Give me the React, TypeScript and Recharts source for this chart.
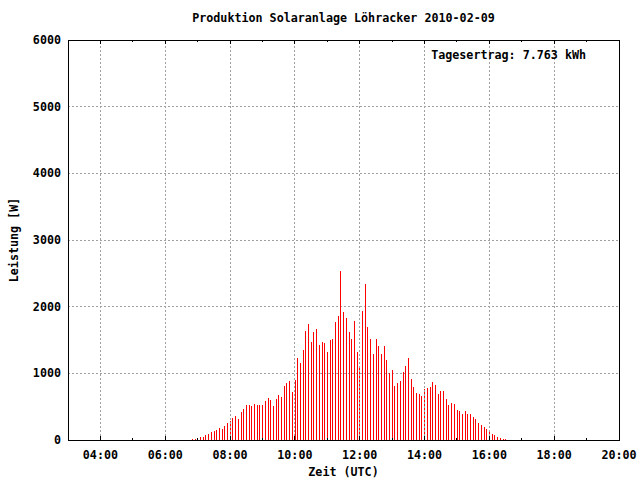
import React from 'react';
import { ComposedChart, Bar, XAxis, YAxis, CartesianGrid, ReferenceArea, ReferenceLine } from 'recharts';

const FONT = "'DejaVu Sans Mono', 'Liberation Mono', monospace";

const times = [
  '06:50', '06:55', '07:00', '07:05', '07:10', '07:15', '07:20', '07:25', '07:30', '07:35', '07:40', '07:45',
  '07:50', '07:55', '08:00', '08:05', '08:10', '08:15', '08:20', '08:25', '08:30', '08:35', '08:40', '08:45',
  '08:50', '08:55', '09:00', '09:05', '09:10', '09:15', '09:20', '09:25', '09:30', '09:35', '09:40', '09:45',
  '09:50', '09:55', '10:00', '10:05', '10:10', '10:15', '10:20', '10:25', '10:30', '10:35', '10:40', '10:45',
  '10:50', '10:55', '11:00', '11:05', '11:10', '11:15', '11:20', '11:25', '11:30', '11:35', '11:40', '11:45',
  '11:50', '11:55', '12:00', '12:05', '12:10', '12:15', '12:20', '12:25', '12:30', '12:35', '12:40', '12:45',
  '12:50', '12:55', '13:00', '13:05', '13:10', '13:15', '13:20', '13:25', '13:30', '13:35', '13:40', '13:45',
  '13:50', '13:55', '14:00', '14:05', '14:10', '14:15', '14:20', '14:25', '14:30', '14:35', '14:40', '14:45',
  '14:50', '14:55', '15:00', '15:05', '15:10', '15:15', '15:20', '15:25', '15:30', '15:35', '15:40', '15:45',
  '15:50', '15:55', '16:00', '16:05', '16:10', '16:15', '16:20', '16:25', '16:30',
];

const power = [
  20, 20, 30, 40, 50, 70, 90, 115, 130, 155, 175, 170,
  215, 250, 290, 335, 365, 310, 425, 470, 530, 530, 515, 540,
  525, 525, 525, 585, 630, 600, 510, 615, 675, 645, 810, 855,
  885, 720, 900, 1230, 1155, 1350, 1635, 1740, 1470, 1620, 1665, 1425,
  1470, 1455, 1320, 1500, 1515, 1770, 1860, 2535, 1920, 1830, 1620, 1515,
  1785, 1320, 1080, 1935, 2340, 1695, 1515, 1290, 1515, 1410, 1290, 1410,
  1200, 1005, 1050, 810, 855, 885, 1020, 1110, 1230, 915, 795, 705,
  690, 660, 765, 780, 795, 870, 825, 690, 735, 735, 615, 525,
  555, 540, 450, 435, 390, 435, 390, 390, 345, 315, 255, 225,
  195, 165, 120, 90, 75, 45, 30, 15, 15,
];

const majorHours = [4, 6, 8, 10, 12, 14, 16, 18, 20];
const minorHours = [5, 7, 9, 11, 13, 15, 17, 19];
const yTicks = [0, 1000, 2000, 3000, 4000, 5000, 6000];

const title = 'Produktion Solaranlage Löhracker 2010-02-09';
const dailyYield = 'Tagesertrag: 7.763 kWh';
const xLabel = 'Zeit (UTC)';
const yLabel = 'Leistung [W]';

const toHours = (s: string) => {
  const [h, m] = s.split(':').map(Number);
  return h + m / 60;
};
const data = times.map((t, i) => ({ t: toHours(t), w: power[i] }));
const allHourTicks = [...majorHours, ...minorHours].sort((a, b) => a - b);
const fmt = (h: number) => `${String(h).padStart(2, '0')}:00`;

const textStyle = { fontFamily: FONT, fontWeight: 'bold' as const, fontSize: 11.7, fill: '#000' };

const BottomTick = (props: any) => {
  const { x, y, payload } = props;
  const v = payload.value;
  const major = majorHours.includes(v);
  const len = major ? 4 : 2;
  return (
    <g>
      <line x1={x} x2={x} y1={y} y2={y - len} stroke="#000" shapeRendering="crispEdges" />
      {major && (
        <text x={x} y={y + 19} textAnchor="middle" {...textStyle}>
          {fmt(v)}
        </text>
      )}
    </g>
  );
};

const TopTick = (props: any) => {
  const { x, y, payload } = props;
  const v = payload.value;
  const major = majorHours.includes(v);
  const len = major ? 4 : 2;
  return <line x1={x} x2={x} y1={y} y2={y + len} stroke="#000" shapeRendering="crispEdges" />;
};

const Impulse = (props: any) => {
  const { x, y, width, height } = props;
  if (!height || height <= 0) return null;
  const cx = Math.round(x + width / 2 - 0.5);
  return <rect x={cx} y={y} width={1} height={height} fill="#ff0000" shapeRendering="crispEdges" />;
};

export default function App() {
  return (
    <div style={{ position: 'absolute', left: 0, top: 0, width: 640, height: 480, background: '#fff' }}>
      <ComposedChart width={640} height={480} data={data} margin={{ top: 10, right: 21, bottom: 0, left: 0 }}>
        <CartesianGrid
          xAxisId="bottom"
          stroke="#a0a0a0"
          strokeDasharray="2 2"
          vertical={false}
          shapeRendering="crispEdges"
        />
        <XAxis
          xAxisId="bottom"
          dataKey="t"
          type="number"
          domain={[3, 20]}
          ticks={allHourTicks}
          interval={0}
          height={40}
          axisLine={false}
          tickLine={false}
          tickSize={0}
          tickMargin={0}
          tick={<BottomTick />}
          allowDataOverflow
        />
        <XAxis
          xAxisId="top"
          orientation="top"
          dataKey="t"
          type="number"
          domain={[3, 20]}
          ticks={allHourTicks}
          interval={0}
          height={30}
          axisLine={false}
          tickLine={false}
          tickSize={0}
          tickMargin={0}
          tick={<TopTick />}
          allowDataOverflow
        />
        <YAxis
          type="number"
          domain={[0, 6000]}
          ticks={yTicks}
          interval={0}
          width={68}
          axisLine={false}
          tickLine={false}
          tickSize={0}
          tickMargin={7}
          tick={textStyle}
        />
        {majorHours.slice(0, -1).map((h) => (
          <ReferenceLine
            key={h}
            xAxisId="bottom"
            x={h}
            stroke="#a0a0a0"
            strokeDasharray="2 2"
            shapeRendering="crispEdges"
          />
        ))}
        <Bar
          xAxisId="bottom"
          dataKey="w"
          barSize={1}
          fill="#ff0000"
          shape={<Impulse />}
          isAnimationActive={false}
        />
        <ReferenceArea
          xAxisId="bottom"
          x1={3}
          x2={20}
          y1={0}
          y2={6000}
          fill="none"
          fillOpacity={0}
          stroke="#000"
          strokeWidth={1}
          shapeRendering="crispEdges"
        />
      </ComposedChart>
      <svg width={640} height={480} style={{ position: 'absolute', left: 0, top: 0, pointerEvents: 'none' }}>
        <text x={343.5} y={22} textAnchor="middle" {...textStyle}>
          {title}
        </text>
        <text x={586} y={59} textAnchor="end" {...textStyle}>
          {dailyYield}
        </text>
        <text x={343.5} y={476} textAnchor="middle" {...textStyle}>
          {xLabel}
        </text>
        <text x={18} y={240} textAnchor="middle" transform="rotate(-90 18 240)" {...textStyle}>
          {yLabel}
        </text>
      </svg>
    </div>
  );
}
